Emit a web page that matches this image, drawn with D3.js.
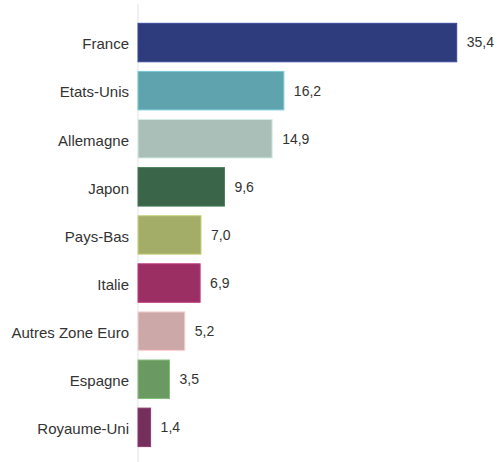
<!DOCTYPE html>
<html>
<head>
<meta charset="utf-8">
<script src="https://cdn.jsdelivr.net/npm/d3@7"></script>
<style>
  html, body { margin: 0; padding: 0; background: #fff; }
  svg { display: block; }
  text { font-family: "Liberation Sans", Arial, sans-serif; }
</style>
</head>
<body>
<svg id="chart" width="500" height="462"></svg>
<script>
// Répartition par pays
const countries = ["France", "Etats-Unis", "Allemagne", "Japon", "Pays-Bas", "Italie", "Autres Zone Euro", "Espagne", "Royaume-Uni"];
const shares = [35.4, 16.2, 14.9, 9.6, 7.0, 6.9, 5.2, 3.5, 1.4];
const colors = ["#2E3C7E", "#5FA3AE", "#AABFB7", "#3A6549", "#A3AD67", "#9B2F64", "#CDA8A8", "#6A9A62", "#752F5C"];

const svg = d3.select("#chart");
const marginLeft = 138, marginTop = 18.5;

const x = d3.scaleLinear().domain([0, 35.4]).range([marginLeft, 456.7]);
const y = d3.scaleBand().domain(countries).range([marginTop, marginTop + 9 * 48.1]).paddingInner(0.2).paddingOuter(0.1);

const fmt = v => d3.format(".1f")(v).replace(".", ",");

// axe vertical
svg.append("line")
  .attr("x1", marginLeft).attr("x2", marginLeft)
  .attr("y1", 4).attr("y2", 462)
  .attr("stroke", "#e3e3e3").attr("stroke-width", 1);

const rows = svg.selectAll("g.row").data(countries).join("g").attr("class", "row");

rows.append("rect")
  .attr("x", x(0))
  .attr("y", d => y(d))
  .attr("width", (d, i) => x(shares[i]) - x(0))
  .attr("height", y.bandwidth())
  .attr("fill", (d, i) => colors[i])
  .attr("stroke", (d, i) => d3.color(colors[i]).brighter(0.6))
  .attr("stroke-width", 1);

rows.append("text")
  .attr("x", marginLeft - 9)
  .attr("y", d => y(d) + y.bandwidth() / 2 + 1.5)
  .attr("dy", "0.35em")
  .attr("text-anchor", "end")
  .attr("font-size", 15)
  .attr("fill", "#333")
  .text(d => d);

rows.append("text")
  .attr("x", (d, i) => x(shares[i]) + 10)
  .attr("y", d => y(d) + y.bandwidth() / 2)
  .attr("dy", "0.35em")
  .attr("font-size", 14)
  .attr("fill", "#333")
  .text((d, i) => fmt(shares[i]));
</script>
</body>
</html>
